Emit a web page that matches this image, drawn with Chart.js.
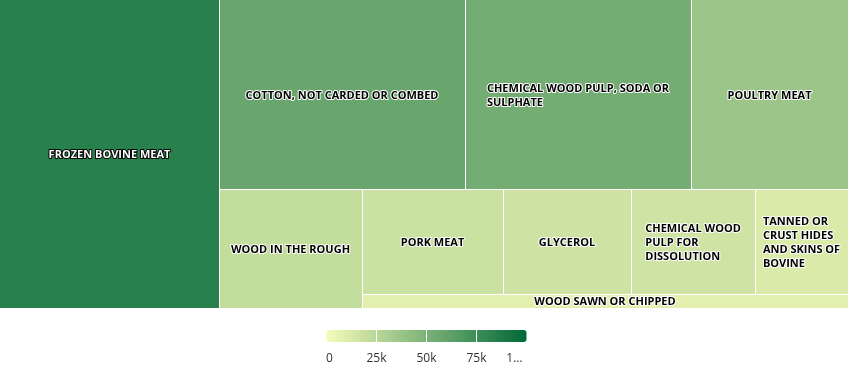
<!DOCTYPE html>
<html><head><meta charset="utf-8">
<script src="https://cdn.jsdelivr.net/npm/chart.js@4.4.0/dist/chart.umd.min.js"></script>
<style>html,body{margin:0;padding:0;background:#fff;} #wrap{width:848px;height:383px;position:relative;}</style>
</head><body><div id="wrap"><canvas id="c"></canvas></div>
<script>
const categories = ['FROZEN BOVINE MEAT', 'COTTON, NOT CARDED OR COMBED', 'CHEMICAL WOOD PULP, SODA OR SULPHATE', 'POULTRY MEAT', 'WOOD IN THE ROUGH', 'PORK MEAT', 'GLYCEROL', 'CHEMICAL WOOD PULP FOR DISSOLUTION', 'TANNED OR CRUST HIDES AND SKINS OF BOVINE', 'WOOD SAWN OR CHIPPED'];
const values = [84000, 57900, 53190, 36950, 21190, 18440, 16740, 16210, 12160, 8470];
const colorTicks = [0, 25000, 50000, 75000, 100000];
const colorTickLabels = ['0', '25k', '50k', '75k', '1…'];

const MIN_RGB = [247, 252, 185], MAX_RGB = [0, 104, 55];
function colorFor(v, max) {
  const t = Math.max(0, Math.min(1, v / max));
  return MIN_RGB.map((a, i) => Math.round(a + (MAX_RGB[i] - a) * t));
}
function worst(row, side) {
  const s = row.reduce((a, b) => a + b, 0);
  const t = s / side;
  return Math.max(...row.map(a => { const l = a / t; return Math.max(l / t, t / l); }));
}
function squarify(vals, W, H) {
  const total = vals.reduce((a, b) => a + b, 0);
  const areas = vals.map(v => v * W * H / total);
  let x = 0, y = 0, w = W, h = H, vertical = true, i = 0;
  const rects = [];
  while (i < areas.length) {
    let row = [areas[i]]; let best = worst(row, vertical ? h : w); i++;
    while (i < areas.length) {
      const cand = row.concat(areas[i]);
      const s = worst(cand, vertical ? h : w);
      if (s <= best) { row = cand; best = s; i++; } else break;
    }
    const sr = row.reduce((a, b) => a + b, 0);
    if (vertical) {
      const cw = sr / h; let yy = y;
      row.forEach(a => { const ch = a / cw; rects.push({ x, y: yy, w: cw, h: ch }); yy += ch; });
      x += cw; w -= cw;
    } else {
      const rh = sr / w; let xx = x;
      row.forEach(a => { const rw = a / rh; rects.push({ x: xx, y, w: rw, h: rh }); xx += rw; });
      y += rh; h -= rh;
    }
    vertical = !vertical;
  }
  return rects;
}
function wrapWords(ctx, text, maxW) {
  const words = text.split(' '); const lines = []; let cur = '';
  words.forEach(wd => {
    const test = cur ? cur + ' ' + wd : wd;
    if (ctx.measureText(test).width > maxW && cur) { lines.push(cur); cur = wd; } else cur = test;
  });
  if (cur) lines.push(cur);
  return lines;
}

const treemapPlugin = {
  id: 'treemapDraw',
  afterDatasetsDraw(chart) {
    const ctx = chart.ctx, xs = chart.scales.x, ys = chart.scales.y, ca = chart.chartArea;
    const ds = chart.data.datasets[0];
    const vals = ds.tree, labels = chart.data.labels;
    const maxC = colorTicks[colorTicks.length - 1];
    const A = ca.width / ca.height;
    const rects = squarify(vals, A, 1);
    ctx.save();
    const px = [];
    rects.forEach((r, i) => {
      const x0 = xs.getPixelForValue(r.x / A), x1 = xs.getPixelForValue((r.x + r.w) / A);
      const y0 = ys.getPixelForValue(r.y), y1 = ys.getPixelForValue(r.y + r.h);
      px.push({ x0, x1, y0, y1 });
      const c = colorFor(vals[i], maxC);
      ctx.fillStyle = `rgb(${c[0]},${c[1]},${c[2]})`;
      ctx.fillRect(x0, y0, x1 - x0, y1 - y0);
    });
    ctx.strokeStyle = '#ffffff'; ctx.lineWidth = 1;
    px.forEach(p => {
      ctx.beginPath();
      if (p.x0 > ca.left + 1) { const xx = Math.round(p.x0) + 0.5; ctx.moveTo(xx, p.y0); ctx.lineTo(xx, p.y1); }
      if (p.y0 > ca.top + 1) { const yy = Math.round(p.y0) + 0.5; ctx.moveTo(p.x0, yy); ctx.lineTo(p.x1, yy); }
      ctx.stroke();
    });
    ctx.font = 'bold 11px "Open Sans"';
    ctx.textBaseline = 'middle'; ctx.textAlign = 'left'; ctx.lineJoin = 'round';
    const lh = 14;
    px.forEach((p, i) => {
      const c = colorFor(vals[i], maxC);
      const dark = (c[0] * 299 + c[1] * 587 + c[2] * 114) / 1000 < 128;
      const lines = wrapWords(ctx, labels[i], (p.x1 - p.x0) - 10);
      const bw = Math.max(...lines.map(l => ctx.measureText(l).width));
      const cx = (p.x0 + p.x1) / 2, cy = (p.y0 + p.y1) / 2 + 1;
      const lx = cx - bw / 2;
      const top = cy - (lines.length - 1) * lh / 2;
      lines.forEach((l, k) => {
        const ly = top + k * lh;
        ctx.lineWidth = 2;
        ctx.strokeStyle = dark ? '#000000' : '#ffffff';
        ctx.strokeText(l, lx, ly);
        ctx.fillStyle = dark ? '#ffffff' : '#000000';
        ctx.fillText(l, lx, ly);
      });
    });
    // color axis legend
    const bx = 326.5, bwid = 200, by = 330, bh = 12;
    const grad = ctx.createLinearGradient(bx, 0, bx + bwid, 0);
    grad.addColorStop(0, `rgb(${MIN_RGB.join(',')})`);
    grad.addColorStop(1, `rgb(${MAX_RGB.join(',')})`);
    ctx.fillStyle = grad;
    ctx.beginPath();
    ctx.roundRect(bx, by, bwid, bh, 3);
    ctx.fill();
    ctx.strokeStyle = '#ffffff'; ctx.lineWidth = 1;
    colorTicks.forEach((t, k) => {
      if (k === 0 || k === colorTicks.length - 1) return;
      const xx = Math.round(bx + bwid * t / maxC) - 0.5;
      ctx.beginPath(); ctx.moveTo(xx, by); ctx.lineTo(xx, by + bh); ctx.stroke();
    });
    ctx.font = '12px "Open Sans"'; ctx.fillStyle = '#333333'; ctx.textBaseline = 'middle';
    colorTickLabels.forEach((lab, k) => {
      const tx = bx + bwid * colorTicks[k] / maxC;
      if (k === 0) { ctx.textAlign = 'left'; ctx.fillText(lab, bx - 0.5, 359); }
      else if (k === colorTickLabels.length - 1) { ctx.textAlign = 'right'; ctx.fillText(lab, tx - 4, 359); }
      else { ctx.textAlign = 'center'; ctx.fillText(lab, tx, 359); }
    });
    ctx.restore();
  }
};

new Chart(document.getElementById('c'), {
  type: 'scatter',
  data: { labels: categories, datasets: [{ label: 'Value', data: [], tree: values }] },
  options: {
    responsive: true, maintainAspectRatio: false, animation: false,
    layout: { padding: { left: 0, right: 0, top: 0, bottom: 75 } },
    plugins: { legend: { display: false }, tooltip: { enabled: false } },
    scales: {
      x: { type: 'linear', min: 0, max: 1, display: false },
      y: { type: 'linear', min: 0, max: 1, reverse: true, display: false }
    }
  },
  plugins: [treemapPlugin]
});
</script></body></html>
